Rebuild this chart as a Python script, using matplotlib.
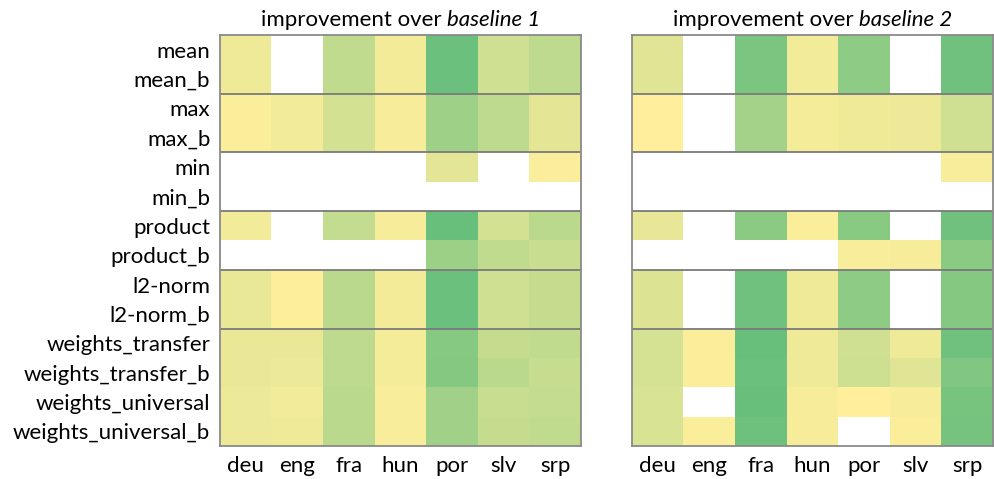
import numpy as np
import matplotlib
matplotlib.use("Agg")
import matplotlib.pyplot as plt
from matplotlib.colors import LinearSegmentedColormap

plt.rcParams['font.family'] = ['Lato', 'DejaVu Sans']

languages = ["deu", "eng", "fra", "hun", "por", "slv", "srp"]
methods = ["mean", "mean_b", "max", "max_b", "min", "min_b", "product", "product_b",
           "l2-norm", "l2-norm_b", "weights_transfer", "weights_transfer_b",
           "weights_universal", "weights_universal_b"]
group_breaks = [2, 4, 6, 8, 10]
nan = np.nan

# relative improvement (0 = smallest, 1 = largest), NaN = no improvement
baseline1 = [
    [0.10, nan, 0.40, 0.07, 0.95, 0.30, 0.42],
    [0.10, nan, 0.40, 0.07, 0.95, 0.30, 0.42],
    [0.02, 0.08, 0.28, 0.05, 0.62, 0.42, 0.17],
    [0.02, 0.08, 0.28, 0.05, 0.62, 0.42, 0.17],
    [nan, nan, nan, nan, 0.18, nan, 0.03],
    [nan, nan, nan, nan, nan, nan, nan],
    [0.08, nan, 0.38, 0.05, 0.97, 0.28, 0.43],
    [nan, nan, nan, nan, 0.63, 0.40, 0.35],
    [0.14, 0.01, 0.43, 0.07, 0.95, 0.30, 0.37],
    [0.14, 0.01, 0.43, 0.07, 0.95, 0.30, 0.37],
    [0.13, 0.13, 0.42, 0.06, 0.77, 0.37, 0.40],
    [0.13, 0.12, 0.42, 0.06, 0.78, 0.44, 0.36],
    [0.12, 0.08, 0.43, 0.04, 0.60, 0.35, 0.38],
    [0.12, 0.10, 0.44, 0.04, 0.60, 0.37, 0.40],
]
baseline2 = [
    [0.20, nan, 0.85, 0.08, 0.72, nan, 0.92],
    [0.20, nan, 0.85, 0.08, 0.72, nan, 0.92],
    [0.00, nan, 0.58, 0.06, 0.10, 0.11, 0.30],
    [0.00, nan, 0.58, 0.06, 0.10, 0.11, 0.30],
    [nan, nan, nan, nan, nan, nan, 0.04],
    [nan, nan, nan, nan, nan, nan, nan],
    [0.15, nan, 0.74, 0.02, 0.75, nan, 0.92],
    [nan, nan, nan, nan, 0.04, 0.05, 0.74],
    [0.22, nan, 0.92, 0.10, 0.72, nan, 0.78],
    [0.22, nan, 0.92, 0.10, 0.72, nan, 0.78],
    [0.26, 0.02, 0.97, 0.10, 0.30, 0.10, 0.92],
    [0.26, 0.02, 0.95, 0.10, 0.32, 0.20, 0.80],
    [0.24, nan, 0.97, 0.05, 0.00, 0.05, 0.87],
    [0.24, 0.02, 0.93, 0.05, nan, 0.02, 0.88],
]
title_prefix = "improvement over "
title_baselines = ["baseline 1", "baseline 2"]

cmap = LinearSegmentedColormap.from_list("ygr", ["#FFEF9C", "#63BE7B"])
cmap.set_bad("white")

FS = 16
fig = plt.figure(figsize=(9.94, 4.79), dpi=100)
W = 361 / 994
H = (446 - 35) / 479
bottom = 1 - 446 / 479
axes = [fig.add_axes([220 / 994, bottom, W, H]), fig.add_axes([632 / 994, bottom, W, H])]
renderer = fig.canvas.get_renderer()

for k, (ax, data, base) in enumerate(zip(axes, [baseline1, baseline2], title_baselines)):
    arr = np.ma.masked_invalid(np.array(data, dtype=float))
    ax.imshow(arr, cmap=cmap, vmin=0, vmax=1, aspect="auto", interpolation="nearest")
    for b in group_breaks:
        ax.axhline(b - 0.5, color="#7a7a7a", lw=1.3)
    for s in ax.spines.values():
        s.set_color("#8a8a8a")
        s.set_linewidth(1.3)
    ax.set_xticks(range(len(languages)))
    ax.set_xticklabels(languages, fontsize=FS)
    ax.set_yticks(range(len(methods)))
    if k == 0:
        ax.set_yticklabels(methods, fontsize=FS)
    else:
        ax.set_yticklabels([])
    ax.tick_params(length=0, pad=7)

    # title with italic part, centred over the axes
    t1 = ax.text(0, 1.012, title_prefix, transform=ax.transAxes, fontsize=FS,
                 ha="left", va="bottom")
    t2 = ax.text(0, 1.012, base, transform=ax.transAxes, fontsize=FS,
                 fontstyle="italic", ha="left", va="bottom")
    w1 = t1.get_window_extent(renderer).width
    w2 = t2.get_window_extent(renderer).width
    axw = ax.get_window_extent(renderer).width
    start = 0.5 - (w1 + w2) / 2 / axw
    t1.set_x(start)
    t2.set_x(start + w1 / axw)

fig.savefig("out.png", dpi=100)
